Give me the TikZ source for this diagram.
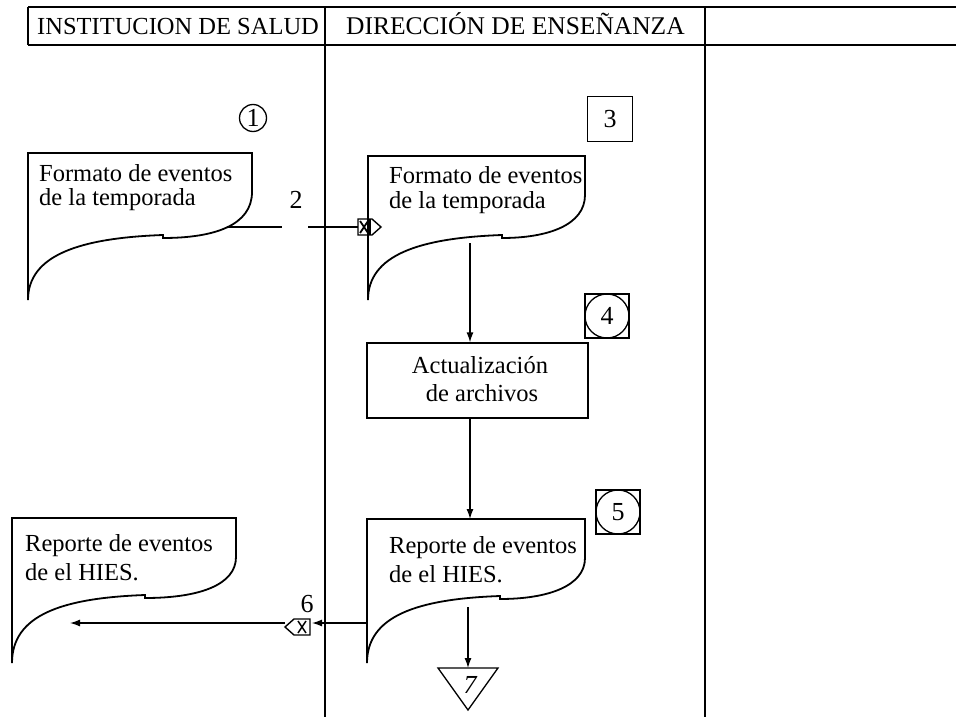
\documentclass[tikz,border=0pt]{standalone}
\usepackage{fontspec}
\setmainfont{Liberation Serif}
\usetikzlibrary{arrows.meta}
\newcommand{\docpath}[7]{%
  \draw[docline] (#2,#3) coordinate (#1-tl) -- (#4,#3) coordinate (#1-tr)
    -- (#4,#3+39) .. controls (#4,#6-13) and (#4-37,#6) .. (#5,#6)
    -- (#5,#6-3) .. controls (#5-83,#6) and (#2,#6+17) .. (#2,#7) -- cycle;}
\begin{document}
\begin{tikzpicture}[x=1pt,y=-1pt,
  rule/.style={line width=1.3pt},
  docline/.style={line width=1.8pt},
  flow/.style={line width=1.3pt,-{Latex[length=10pt,width=7pt]}},
  txt/.style={font=\fontsize{24.5}{29}\selectfont, inner sep=0pt, anchor=base west},
  ctxt/.style={font=\fontsize{24.5}{29}\selectfont, inner sep=0pt, anchor=base},
  numtxt/.style={font=\fontsize{26}{30}\selectfont, inner sep=0pt}]
\useasboundingbox (0,0) rectangle (956,717);
% header
\coordinate (hTL) at (28,7);
\coordinate (hTR) at (956,7);
\coordinate (hBL) at (28,45);
\coordinate (hBR) at (956,45);
\coordinate (v1t) at (325,7);
\coordinate (v1b) at (325,717);
\coordinate (v2t) at (705,7);
\coordinate (v2b) at (705,717);
\draw[rule] (hTL) -- (hTR);
\draw[rule] (hBL) -- (hBR);
\draw[rule] (hTL) -- (hBL);
\draw[rule] (v1t) -- (v1b);
\draw[rule] (v2t) -- (v2b);
\node[txt] (h1) at (37,35) {INSTITUCION DE SALUD};
\node[txt, font=\fontsize{25.5}{29}\selectfont] (h2) at (346,35) {DIRECCIÓN DE ENSEÑANZA};
% step marks
\node[draw, circle, line width=1.3pt, minimum size=27pt, inner sep=0pt, numtxt] (n1) at (253,118) {1};
\node[draw, rectangle, line width=1.3pt, minimum size=45pt, inner sep=0pt, numtxt] (n3) at (610,119) {3};
\node[draw, rectangle, line width=1.3pt, minimum size=44pt, inner sep=0pt] (n4) at (607,316) {};
\node[draw, circle, line width=1.3pt, minimum size=44pt, inner sep=0pt, numtxt] (n4c) at (n4.center) {4};
\node[draw, rectangle, line width=1.3pt, minimum size=44pt, inner sep=0pt] (n5) at (618,512) {};
\node[draw, circle, line width=1.3pt, minimum size=44pt, inner sep=0pt, numtxt] (n5c) at (n5.center) {5};
% documents
\docpath{d1}{28}{153}{252}{163}{238}{300}
\node[txt] (d1a) at (39,181) {Formato de eventos};
\node[txt] (d1b) at (39,205) {de la temporada};
\docpath{d2}{368}{156}{585}{502}{238}{300}
\node[txt] (d2a) at (389,183) {Formato de eventos};
\node[txt] (d2b) at (389,208) {de la temporada};
\docpath{d3}{367}{519}{585}{500}{599}{663}
\node[txt] (d3a) at (389,553) {Reporte de eventos};
\node[txt] (d3b) at (389,582) {de el HIES.};
\docpath{d4}{12}{518}{236}{145}{598}{663}
\node[txt] (d4a) at (25,551) {Reporte de eventos};
\node[txt] (d4b) at (25,580) {de el HIES.};
% process box
\node[draw, rectangle, line width=1.3pt, minimum width=221pt, minimum height=75pt, inner sep=0pt] (box) at (477.5,380.5) {};
\node[ctxt] (boxa) at (480,373) {Actualización};
\node[ctxt] (boxb) at (482,401) {de archivos};
% connector 2
\coordinate (c2a) at (227,227);
\coordinate (c2b) at (282,227);
\coordinate (c2c) at (308,227);
\coordinate (s2) at (358,227);
\draw[rule] (c2a) -- (c2b);
\draw[rule] (c2c) -- (s2);
\draw[line width=1.4pt, line join=miter] (s2) ++(0,-8) -- ++(14,0) -- ++(9,8) -- ++(-9,8) -- ++(-14,0) -- cycle;
\draw[line width=1.2pt] (s2) ++(12,-8) -- ++(0,16);
\draw[line width=1.8pt] (s2) ++(2,-6) -- ++(8,12) (s2) ++(2,6) -- ++(8,-12);
\node[numtxt, anchor=base] (l2) at (296,208) {2};
% vertical flows
\coordinate (f1s) at (470,243);
\draw[flow] (f1s) -- (box.north -| f1s);
\draw[flow] (box.south -| f1s) -- (470,519);
\coordinate (f3s) at (468,607);
\coordinate (t7top) at (468,668);
\draw[flow] (f3s) -- (t7top);
% triangle 7
\draw[line width=1.3pt, line join=miter] (438,668) coordinate (t7l) -- (498,668) coordinate (t7r) -- (468,710) coordinate (t7b) -- cycle;
\node[numtxt, font=\itshape\fontsize{26}{30}\selectfont] (l7) at (470,685) {7};
% connector 6
\coordinate (c6a) at (367,623);
\coordinate (s6r) at (312,623);
\coordinate (s6l) at (285,623);
\coordinate (c6end) at (70,623);
\draw[flow] (c6a) -- (s6r);
\draw[line width=1.4pt, line join=miter] (310,619) -- (294,619) -- (285,627) -- (294,635) -- (310,635) -- cycle;
\draw[line width=1.5pt] (298,621) -- (306,633) (298,633) -- (306,621);
\draw[flow] (s6l) -- (c6end);
\node[numtxt, anchor=base] (l6) at (307,612) {6};
\end{tikzpicture}
\end{document}
